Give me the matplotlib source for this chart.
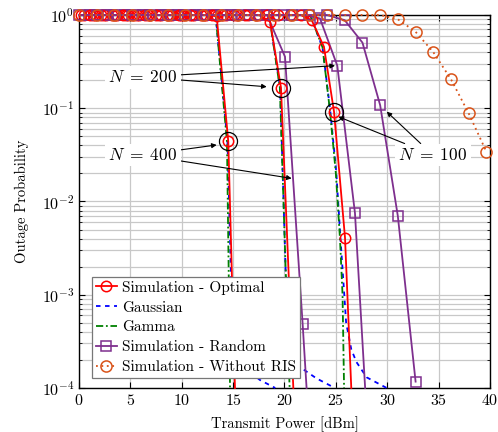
import numpy as np
import matplotlib
matplotlib.use("Agg")
import matplotlib.pyplot as plt

plt.rcParams['font.family'] = 'serif'
plt.rcParams['font.serif'] = ['cmr10', 'DejaVu Serif']
plt.rcParams['mathtext.fontset'] = 'cm'
plt.rcParams['axes.formatter.use_mathtext'] = True
plt.rcParams['axes.unicode_minus'] = False

# ---- data (x in dBm, y = outage probability) ----
# Simulation - Optimal (N = 400, 200, 100)
opt400_x = [0.44, 1.52, 2.6, 3.68, 4.76, 5.84, 6.92, 8.0, 9.08, 10.16, 11.24, 12.32,
            13.4, 14.53, 15.18]
opt400_y = [1, 1, 1, 1, 1, 1, 1, 1, 1, 1, 1, 1, 0.97, 0.044, 1e-4]
opt200_x = [0.24, 1.32, 2.4, 3.48, 4.56, 5.64, 6.72, 7.8, 8.88, 9.96, 11.04, 12.12,
            13.2, 14.28, 15.36, 16.44, 17.52, 18.6, 19.66, 20.86]
opt200_y = [1, 1, 1, 1, 1, 1, 1, 1, 1, 1, 1, 1, 1, 1, 1, 1, 1, 0.85, 0.166, 1e-4]
opt100_x = [1.05, 2.13, 3.21, 4.29, 5.37, 6.45, 7.53, 8.61, 9.69, 10.77, 11.85, 12.93,
            14.01, 15.09, 16.17, 17.25, 18.33, 19.41, 20.49, 21.57, 22.65, 23.84,
            24.82, 25.89, 26.5]
opt100_y = [1, 1, 1, 1, 1, 1, 1, 1, 1, 1, 1, 1, 1, 1, 1, 1, 1, 1, 1, 1,
            0.88, 0.457, 0.092, 0.0041, 1e-4]

# Gaussian approximation
gau400_x = [13.3, 14.45, 14.8, 15.1, 15.8, 16.8, 17.6, 19.1]
gau400_y = [1.0, 0.044, 1.5e-3, 4e-4, 2.2e-4, 1.44e-4, 1.22e-4, 1e-4]
gau200_x = [18.5, 19.58, 20.1, 20.4, 21.1, 23.1, 24.9]
gau200_y = [1.0, 0.166, 2e-3, 3e-4, 1.8e-4, 1.27e-4, 1e-4]
gau100_x = [22.5, 23.7, 24.45, 25.05, 25.45, 25.75, 26.0, 26.5, 27.0, 28.0, 29.95]
gau100_y = [1.0, 0.45, 0.095, 0.02, 4e-3, 1.3e-3, 5e-4, 2.6e-4, 1.9e-4, 1.3e-4, 1e-4]

# Gamma approximation
gam400_x = [13.3, 14.4, 14.6, 14.7]
gam400_y = [1.0, 0.044, 1e-3, 1e-4]
gam200_x = [18.5, 19.55, 20.15, 20.5]
gam200_y = [1.0, 0.166, 1.4e-3, 1e-4]
gam100_x = [22.5, 23.7, 24.42, 25.0, 25.4, 25.65, 25.8]
gam100_y = [1.0, 0.45, 0.095, 0.02, 4e-3, 1e-3, 1e-4]

# Simulation - Random
rnd400_x = [1.06, 2.79, 4.51, 6.23, 7.96, 9.68, 11.4, 13.13, 14.85, 16.58, 18.3,
            20.05, 21.77, 22.15]
rnd400_y = [1, 1, 1, 1, 1, 1, 1, 1, 1, 1, 1, 0.357, 4.8e-4, 1e-4]
rnd200_x = [1.04, 2.76, 4.49, 6.21, 7.94, 9.66, 11.38, 13.11, 14.83, 16.56, 18.28,
            20.0, 21.73, 23.45, 25.14, 26.86, 27.85]
rnd200_y = [1, 1, 1, 1, 1, 1, 1, 1, 1, 1, 1, 1, 1, 0.92, 0.286, 0.0075, 1e-4]
rnd100_x = [0, 1.72, 3.45, 5.17, 6.9, 8.62, 10.34, 12.07, 13.79, 15.52, 17.24, 18.97,
            20.69, 22.41, 24.14, 25.86, 27.59, 29.31, 31.03, 32.76]
rnd100_y = [1, 1, 1, 1, 1, 1, 1, 1, 1, 1, 1, 1, 1, 1, 1,
            0.88, 0.505, 0.108, 0.0070, 1.17e-4]

# Simulation - Without RIS
nris_x = [0, 1.72, 3.45, 5.17, 6.9, 8.62, 10.34, 12.07, 13.79, 15.52, 17.24, 18.97,
          20.69, 22.41, 24.14, 25.86, 27.59, 29.31, 31.03, 32.76, 34.48, 36.21,
          37.93, 39.66]
nris_y = [1, 1, 1, 1, 1, 1, 1, 1, 1, 1, 1, 1, 1, 1, 1, 1, 1, 1,
          0.90, 0.66, 0.40, 0.204, 0.088, 0.034]

RED = '#ff0000'
BLUE = '#0000ff'
GREEN = '#008000'
PURPLE = '#7e2f8e'
ORANGE = '#d95319'

fig = plt.figure(figsize=(4.98, 4.32), dpi=100)
ax = fig.add_axes([0.1586, 0.1019, 0.8253, 0.8634])

opt_style = dict(color=RED, lw=1.3, marker='o', ms=7.5, mfc='none', mew=1.1,
                 clip_on=False, zorder=4)
gau_style = dict(color=BLUE, lw=1.3, ls=(0, (2.5, 2.5)), clip_on=False, zorder=3)
gam_style = dict(color=GREEN, lw=1.3, ls=(0, (4, 1.5, 1, 1.5)), clip_on=False, zorder=3)
rnd_style = dict(color=PURPLE, lw=1.3, marker='s', ms=6.5, mfc='none', mew=1.1,
                 clip_on=False, zorder=4)

opt_sets = [(opt400_x, opt400_y), (opt200_x, opt200_y), (opt100_x, opt100_y)]
gau_sets = [(gau400_x, gau400_y), (gau200_x, gau200_y), (gau100_x, gau100_y)]
gam_sets = [(gam400_x, gam400_y), (gam200_x, gam200_y), (gam100_x, gam100_y)]
rnd_sets = [(rnd400_x, rnd400_y), (rnd200_x, rnd200_y), (rnd100_x, rnd100_y)]

handles = []
for i in range(3):
    h1, = ax.plot(*opt_sets[i], markevery=slice(0, -1), **opt_style)
    h2, = ax.plot(*gau_sets[i], **gau_style)
    h3, = ax.plot(*gam_sets[i], **gam_style)
    rx, ry = rnd_sets[i]
    mk = slice(0, -1) if ry[-1] <= 1e-4 else None
    h4, = ax.plot(rx, ry, markevery=mk, **rnd_style)
    if i == 0:
        handles = [h1, h2, h3, h4]

h5, = ax.plot(nris_x, nris_y, color=ORANGE, lw=1.3, ls=(0, (1, 2)), marker='o',
              ms=8, mfc='none', mew=1.1, clip_on=False, zorder=5)
handles.append(h5)

# highlight circles around the annotated optimal points
hx = [opt400_x[13], opt200_x[18], opt100_x[22]]
hy = [opt400_y[13], opt200_y[18], opt100_y[22]]
ax.plot(hx, hy, ls='none', marker='o', ms=13, mfc='none', mec='black', mew=0.9,
        zorder=6)

ax.set_yscale('log')
ax.set_xlim(0, 40)
ax.set_ylim(1e-4, 1)
ax.set_xticks(np.arange(0, 41, 5))
ax.grid(True, which='major', color='#c8c8c8', lw=0.9)
ax.grid(True, which='minor', axis='y', color='#c8c8c8', lw=0.9)
ax.tick_params(which='both', direction='in', top=True, right=True, labelsize=11.5)
ax.tick_params(which='major', length=4)
ax.tick_params(which='minor', length=2)
for s in ax.spines.values():
    s.set_linewidth(1.0)
ax.set_axisbelow(True)

ax.set_xlabel('Transmit Power [dBm]', fontsize=10.5, labelpad=6)
ax.set_ylabel('Outage Probability', fontsize=10.5, labelpad=9)

arrow = dict(arrowstyle='-|>', color='black', lw=0.8, mutation_scale=7,
             shrinkA=0, shrinkB=0)
box = dict(boxstyle='square,pad=0.2', fc='white', ec='none')
txt = dict(fontsize=12.5, ha='center', va='center', bbox=box, zorder=7)

ax.annotate(r'$N\;=\;200$', xy=(18.27, 0.170), xytext=(6.23, 0.216),
            arrowprops=arrow, **txt)
ax.annotate(r'$N\;=\;200$', xy=(24.92, 0.286), xytext=(6.23, 0.216),
            arrowprops=arrow, **txt)
ax.annotate(r'$N\;=\;400$', xy=(13.4, 0.0404), xytext=(6.23, 0.0315),
            arrowprops=arrow, **txt)
ax.annotate(r'$N\;=\;400$', xy=(20.7, 0.0177), xytext=(6.23, 0.0315),
            arrowprops=arrow, **txt)
ax.annotate(r'$N\;=\;100$', xy=(25.24, 0.0812), xytext=(34.45, 0.0315),
            arrowprops=arrow, **txt)
ax.annotate(r'$N\;=\;100$', xy=(29.95, 0.0918), xytext=(34.45, 0.0315),
            arrowprops=arrow, **txt)

labels = ['Simulation - Optimal', 'Gaussian', 'Gamma', 'Simulation - Random',
          'Simulation - Without RIS']
leg = ax.legend(handles, labels, loc='lower left', bbox_to_anchor=(0.031, 0.027),
                fontsize=11, frameon=True, fancybox=False, edgecolor='#777777',
                framealpha=1, borderpad=0.25, labelspacing=0.4, handlelength=1.4,
                handletextpad=0.35, borderaxespad=0)
leg.get_frame().set_linewidth(0.9)
leg.set_zorder(10)

fig.savefig('out.png', dpi=100)
